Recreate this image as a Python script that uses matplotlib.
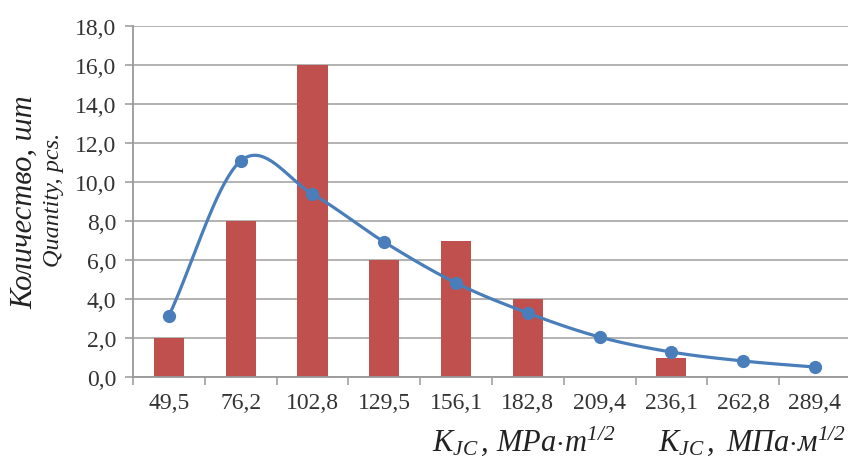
import numpy as np
import matplotlib
matplotlib.use("Agg")
import matplotlib.pyplot as plt
from matplotlib.ticker import FixedLocator, FuncFormatter

plt.rcParams['font.family'] = ['Liberation Serif', 'DejaVu Serif']
plt.rcParams['mathtext.fontset'] = 'custom'
plt.rcParams['mathtext.rm'] = 'Liberation Serif:italic'
plt.rcParams['mathtext.it'] = 'Liberation Serif:italic'

categories = ["49,5", "76,2", "102,8", "129,5", "156,1", "182,8", "209,4", "236,1", "262,8", "289,4"]
bar_values = [2, 8, 16, 6, 7, 4, 0, 1, 0, 0]
line_values = [3.13, 11.08, 9.38, 6.92, 4.82, 3.28, 2.05, 1.28, 0.82, 0.51]
y_ticks = [0, 2, 4, 6, 8, 10, 12, 14, 16, 18]

BAR_COLOR = '#C0504D'
LINE_COLOR = '#4A7EBB'
GRID_COLOR = '#A6A6A6'


def catmull_rom(xs, ys, n=40):
    xs = np.asarray(xs, float)
    ys = np.asarray(ys, float)
    P = np.column_stack([xs, ys])
    P = np.vstack([2 * P[0] - P[1], P, 2 * P[-1] - P[-2]])
    out = []
    for i in range(1, len(P) - 2):
        p0, p1, p2, p3 = P[i - 1], P[i], P[i + 1], P[i + 2]
        t = np.linspace(0, 1, n)[:, None]
        seg = 0.5 * ((2 * p1) + (-p0 + p2) * t + (2 * p0 - 5 * p1 + 4 * p2 - p3) * t ** 2
                     + (-p0 + 3 * p1 - 3 * p2 + p3) * t ** 3)
        out.append(seg)
    out = np.vstack(out)
    return out[:, 0], out[:, 1]


fig = plt.figure(figsize=(8.48, 4.64), dpi=100)
ax = fig.add_axes([133 / 848, (464 - 378) / 464, 1 - 133 / 848, (378 - 27) / 464])

x = np.arange(len(categories))
ax.bar(x, bar_values, width=0.42, color=BAR_COLOR, zorder=2)

sx, sy = catmull_rom(x, line_values)
ax.plot(sx, sy, color=LINE_COLOR, lw=2.3, zorder=3, solid_capstyle='round')
ax.plot(x, line_values, 'o', color=LINE_COLOR, ms=8.5, zorder=4)

ax.set_xlim(-0.5, 9.46)
ax.set_ylim(0, 18)
ax.set_yticks(y_ticks)
ax.yaxis.set_major_formatter(FuncFormatter(lambda v, p: f"{v:.1f}".replace('.', ',')))
ax.yaxis.grid(True, color=GRID_COLOR, lw=1.2, zorder=0)
ax.set_axisbelow(True)

ax.set_xticks(x)
ax.set_xticklabels(categories)
ax.xaxis.set_minor_locator(FixedLocator(np.arange(-0.5, 9.6, 1.0)))
ax.tick_params(axis='x', which='major', length=0, pad=11, labelsize=17, colors='#333333')
ax.tick_params(axis='x', which='minor', length=6, width=1.1, color='#999999', direction='out')
ax.tick_params(axis='y', which='major', length=6, width=1.1, color='#999999', direction='out',
               labelsize=17, pad=6, labelcolor='#333333')

for s in ['top', 'right']:
    ax.spines[s].set_visible(False)
for s in ['left', 'bottom']:
    ax.spines[s].set_color('#999999')
    ax.spines[s].set_linewidth(1.3)

fig.text(25 / 848, 1 - 202 / 464, "Количество, шт", rotation=90, ha='center', va='center',
         fontsize=22, style='italic', color='#222222')
fig.text(54 / 848, 1 - 200 / 464, "Quantity, pcs.", rotation=90, ha='center', va='center',
         fontsize=17.5, style='italic', color='#222222')

fig.text(432 / 848, 1 - 441 / 464,
         r"$K_{JC}\mathrm{\,,\,MPa{\cdot}m}^{1/2}$",
         ha='left', va='center', fontsize=22, color='#222222')
fig.text(846 / 848, 1 - 441 / 464,
         r"$K_{JC}\mathrm{\,,\ МПа{\cdot}м}^{1/2}$",
         ha='right', va='center', fontsize=22, color='#222222')

fig.savefig("out.png", dpi=100)
